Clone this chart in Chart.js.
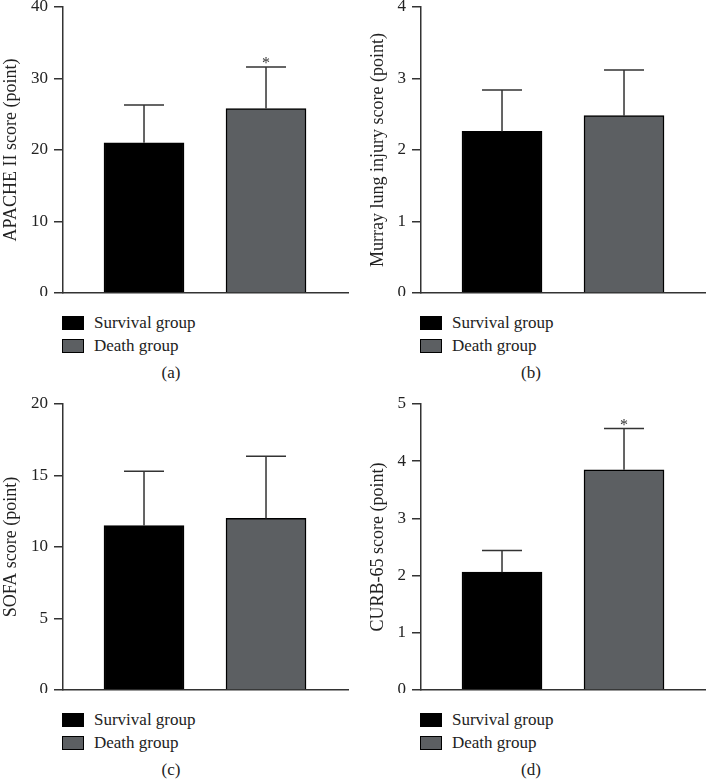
<!DOCTYPE html>
<html>
<head>
<meta charset="utf-8">
<script src="https://cdn.jsdelivr.net/npm/chart.js@4.4.1/dist/chart.umd.min.js"></script>
<style>
  body { margin: 0; background: #fff; }
  #wrap { position: relative; width: 706px; height: 779px; font-family: "Liberation Serif", serif; color: #222; }
  .panel { position: absolute; }
  .legend { position: absolute; left: 62px; top: 311px; font-size: 17px; }
  .row { display: flex; align-items: center; height: 23px; }
  .box { width: 20px; height: 12px; border: 1px solid #000; margin-right: 10px; }
  .cap { position: absolute; top: 364px; width: 60px; text-align: center; font-size: 17px; line-height: 18px; }
</style>
</head>
<body>
<div id="wrap"></div>
<script>
var groupLabels = ['Survival group', 'Death group'];
var groupColors = ['#000000', '#5c5f62'];
var yTitles = ['APACHE II score (point)', 'Murray lung injury score (point)', 'SOFA score (point)', 'CURB-65 score (point)'];
var yMax = [40, 4, 20, 5];
var yStep = [10, 1, 5, 1];
var survivalMean = [21.0, 2.26, 11.5, 2.06];
var survivalSD = [5.3, 0.58, 3.8, 0.38];
var deathMean = [25.8, 2.48, 12.0, 3.85];
var deathSD = [5.8, 0.64, 4.35, 0.72];
var starred = [true, false, false, true]; // * over death group
var captions = ['(a)', '(b)', '(c)', '(d)'];

var font = 'Liberation Serif';

// upper error bars + asterisk
var errorBars = {
    id: 'errorBars',
    afterDatasetsDraw: function (chart, args, opts) {
        var c = chart.ctx;
        var yScale = chart.scales.y;
        c.save();
        c.strokeStyle = '#333';
        c.lineWidth = 1.5;
        chart.data.datasets.forEach(function (ds, di) {
            var meta = chart.getDatasetMeta(di);
            meta.data.forEach(function (bar, j) {
                var top = yScale.getPixelForValue(ds.data[j].y + ds.sd[j]);
                c.beginPath();
                c.moveTo(bar.x, bar.y);
                c.lineTo(bar.x, top);
                c.moveTo(bar.x - 20, top);
                c.lineTo(bar.x + 20, top);
                c.stroke();
                if (ds.star) {
                    c.fillStyle = '#333';
                    c.font = '16px "' + font + '"';
                    c.textAlign = 'center';
                    c.textBaseline = 'alphabetic';
                    c.fillText('*', bar.x, top + 1);
                }
            });
        });
        c.restore();
    }
};

var wrap = document.getElementById('wrap');

for (let i = 0; i < 4; i++) {
    var right = i % 2 == 1;
    var panel = document.createElement('div');
    panel.className = 'panel';
    panel.style.left = (right ? 358 : 0) + 'px';
    panel.style.top = (i < 2 ? 0 : 397) + 'px';
    var w = right ? 348 : 350;
    var cv = document.createElement('canvas');
    cv.width = w;
    cv.height = 296;
    cv.style.width = w + 'px';
    cv.style.height = '296px';
    panel.appendChild(cv);

    var leg = '<div class="legend">';
    for (var g = 0; g < groupLabels.length; g++) {
        leg += '<div class="row"><span class="box" style="background:' + groupColors[g] + '"></span>' + groupLabels[g] + '</div>';
    }
    leg += '</div>';
    leg += '<div class="cap" style="left:' + ((right ? 173 : 171) - 30) + 'px">' + captions[i] + '</div>';
    panel.insertAdjacentHTML('beforeend', leg);
    wrap.appendChild(panel);

    new Chart(cv, {
        type: 'bar',
        data: {
            datasets: [
                {
                    label: groupLabels[0],
                    data: [{ x: 1, y: survivalMean[i] }],
                    sd: [survivalSD[i]],
                    star: false,
                    backgroundColor: groupColors[0]
                },
                {
                    label: groupLabels[1],
                    data: [{ x: 2, y: deathMean[i] }],
                    sd: [deathSD[i]],
                    star: starred[i],
                    backgroundColor: groupColors[1]
                }
            ]
        },
        options: {
            responsive: false,
            animation: false,
            devicePixelRatio: 1,
            layout: { padding: { top: 7, right: right ? 0 : 2, bottom: 3, left: 0 } },
            datasets: {
                bar: { grouped: false, barThickness: 80, borderColor: '#000', borderWidth: 1.5 }
            },
            plugins: { legend: { display: false }, tooltip: { enabled: false } },
            scales: {
                x: {
                    type: 'linear',
                    offset: false,
                    min: 0.336,
                    max: 2.672,
                    ticks: { display: false },
                    grid: { display: false },
                    border: { display: true, color: '#333', width: 1.5 },
                    afterFit: function (s) { s.height = 0; }
                },
                y: {
                    min: 0,
                    max: yMax[i],
                    ticks: {
                        stepSize: yStep[i],
                        padding: 6,
                        color: '#222',
                        font: { family: font, size: 17 }
                    },
                    grid: { drawOnChartArea: false, tickLength: 9, color: '#333', lineWidth: 1.5 },
                    border: { display: true, color: '#333', width: 1.5 },
                    title: {
                        display: true,
                        text: yTitles[i],
                        color: '#222',
                        font: { family: font, size: 18 },
                        padding: { top: right ? 9 : 0, bottom: 0 }
                    },
                    afterFit: function (s) {
                        s.width = 63;
                        s.paddingTop = 0;
                        s.paddingBottom = 0;
                    }
                }
            }
        },
        plugins: [errorBars]
    });
}
</script>
</body>
</html>
